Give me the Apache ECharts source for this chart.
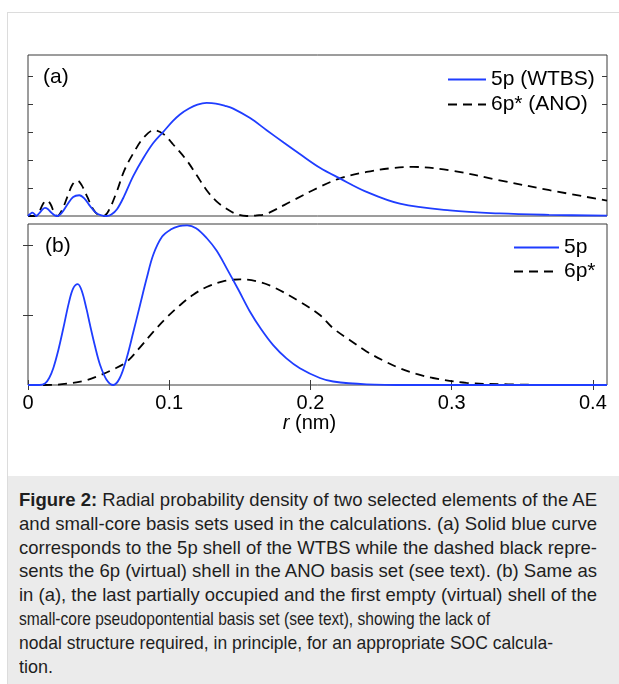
<!DOCTYPE html>
<html><head><meta charset="utf-8">
<script src="https://cdn.jsdelivr.net/npm/echarts@6/dist/echarts.min.js"></script>
<style>
html,body{margin:0;padding:0;background:#fff;width:619px;height:684px;overflow:hidden;font-family:"Liberation Sans",Arial,sans-serif;}
#frameTop{position:absolute;left:7px;top:12px;width:612px;height:1px;background:#dcdcdc;}
#frameLeft{position:absolute;left:7px;top:12px;width:1px;height:672px;background:#dcdcdc;}
#chart{position:absolute;left:0;top:0;width:619px;height:476px;}
#caption{position:absolute;left:8px;top:476px;width:611px;height:208px;background:#ebebeb;}
#capText{position:absolute;left:11px;top:12px;width:700px;font-size:19px;line-height:23.8px;color:#1e1e1e;}
#capText div{height:23.8px;white-space:nowrap;}
#capText span{display:inline-block;white-space:nowrap;transform-origin:0 50%;}
</style></head>
<body>
<div id="frameTop"></div><div id="frameLeft"></div>
<div id="chart"></div>
<div id="caption"><div id="capText"></div></div>
<script>
// ---- caption text (one entry per printed line) ----
const captionBold = 'Figure 2:';
const captionLines = [
  ' Radial probability density of two selected elements of the AE',
  'and small-core basis sets used in the calculations. (a) Solid blue curve',
  'corresponds to the 5p shell of the WTBS while the dashed black repre-',
  'sents the 6p (virtual) shell in the ANO basis set (see text). (b) Same as',
  'in (a), the last partially occupied and the first empty (virtual) shell of the',
  'small-core pseudopontential basis set (see text), showing the lack of',
  'nodal structure required, in principle, for an appropriate SOC calcula-',
  'tion.'
];
const captionLineWidths = [578, 578, 578, 578, 578, 471, 534, 34];

// ---- tick values / labels ----
const rTicks = [0, 0.1, 0.2, 0.3, 0.4];
const rTickLabels = ['0', '0.1', '0.2', '0.3', '0.4'];
const yTicksA = [1, 2, 3, 4, 5];
const yTicksB = [1, 2];
const seriesNamesA = ['5p (WTBS)', '6p* (ANO)'];
const seriesNamesB = ['5p', '6p*'];
const panelLabels = ['(a)', '(b)'];

// ---- panel (a): 5p (WTBS) ----
const rA5p = [0, 0.0015, 0.003, 0.0045, 0.0057, 0.008, 0.010, 0.012, 0.014, 0.0165, 0.0186, 0.0208, 0.024, 0.028, 0.032, 0.0363, 0.040, 0.044, 0.048, 0.052, 0.0557, 0.059, 0.063, 0.068, 0.0745, 0.0815, 0.0887, 0.0958, 0.1025, 0.1076, 0.114, 0.120, 0.1265, 0.133, 0.1395, 0.1453, 0.157, 0.169, 0.181, 0.1925, 0.2067, 0.2208, 0.2397, 0.2633, 0.2987, 0.334, 0.369, 0.41];
const pA5p = [0, 0.07, 0.12, 0.07, 0, 0.1, 0.22, 0.29, 0.25, 0.12, 0.03, 0, 0.12, 0.42, 0.68, 0.74, 0.62, 0.35, 0.12, 0.02, 0, 0.05, 0.24, 0.7, 1.42, 2.05, 2.6, 3.0, 3.38, 3.62, 3.83, 3.97, 4.03, 4.01, 3.93, 3.83, 3.50, 3.06, 2.62, 2.21, 1.72, 1.34, 0.86, 0.44, 0.20, 0.09, 0.04, 0.01];
// ---- panel (a): 6p* (ANO) ----
const rA6p = [0, 0.005, 0.0075, 0.0105, 0.0132, 0.016, 0.0185, 0.0208, 0.024, 0.028, 0.0315, 0.0349, 0.038, 0.042, 0.046, 0.050, 0.0533, 0.057, 0.0628, 0.068, 0.0745, 0.082, 0.0892, 0.096, 0.1028, 0.1123, 0.1195, 0.1265, 0.1335, 0.1406, 0.1475, 0.1548, 0.162, 0.169, 0.1878, 0.2067, 0.2208, 0.2397, 0.2565, 0.2727, 0.2987, 0.334, 0.3694, 0.41];
const pA6p = [0, 0, 0.1, 0.42, 0.56, 0.42, 0.12, 0, 0.2, 0.7, 1.12, 1.27, 1.1, 0.68, 0.25, 0.03, 0, 0.18, 0.86, 1.6, 2.23, 2.8, 3.06, 2.92, 2.55, 1.99, 1.45, 0.92, 0.52, 0.26, 0.07, 0, 0.02, 0.08, 0.56, 1.04, 1.34, 1.57, 1.70, 1.75, 1.63, 1.27, 0.92, 0.55];
// ---- panel (b): 5p ----
const rB5p = [0, 0.008, 0.012, 0.015, 0.0179, 0.0215, 0.025, 0.029, 0.032, 0.0352, 0.038, 0.0415, 0.0439, 0.0475, 0.051, 0.0555, 0.0604, 0.065, 0.0698, 0.0745, 0.0793, 0.084, 0.0887, 0.095, 0.101, 0.107, 0.1127, 0.119, 0.1265, 0.1335, 0.1406, 0.149, 0.1571, 0.165, 0.1736, 0.183, 0.1925, 0.2067, 0.2161, 0.2397, 0.27, 0.41];
const pB5p = [0, 0, 0.02, 0.1, 0.24, 0.5, 0.81, 1.18, 1.38, 1.44, 1.35, 1.08, 0.86, 0.55, 0.29, 0.08, 0, 0.1, 0.38, 0.75, 1.14, 1.52, 1.86, 2.12, 2.22, 2.27, 2.28, 2.24, 2.10, 1.92, 1.67, 1.36, 1.05, 0.80, 0.57, 0.38, 0.24, 0.10, 0.05, 0.01, 0, 0];
// ---- panel (b): 6p* ----
const rB6p = [0, 0.01, 0.02, 0.0274, 0.04, 0.051, 0.06, 0.0698, 0.079, 0.0887, 0.098, 0.1076, 0.117, 0.1265, 0.138, 0.15, 0.162, 0.1736, 0.1925, 0.2067, 0.2161, 0.228, 0.2397, 0.2515, 0.2633, 0.275, 0.2868, 0.3105, 0.34, 0.38, 0.41];
const pB6p = [0, 0, 0.005, 0.02, 0.06, 0.14, 0.22, 0.33, 0.53, 0.76, 0.96, 1.14, 1.29, 1.40, 1.48, 1.51, 1.48, 1.40, 1.19, 1.0, 0.81, 0.64, 0.48, 0.35, 0.24, 0.16, 0.10, 0.03, 0.01, 0, 0];

// ---- caption build ----
(function () {
  const box = document.getElementById('capText');
  captionLines.forEach((t, i) => {
    const d = document.createElement('div');
    const s = document.createElement('span');
    if (i === 0) {
      const b = document.createElement('b');
      b.textContent = captionBold;
      s.appendChild(b);
    }
    s.appendChild(document.createTextNode(t));
    d.appendChild(s);
    box.appendChild(d);
    const w = s.getBoundingClientRect().width;
    if (w > 0) s.style.transform = 'scaleX(' + (captionLineWidths[i] / w) + ')';
  });
})();

const zip = (xs, ys) => xs.map((x, i) => [x, ys[i]]);
const FONT = 'Liberation Sans';
const BLUE = '#1f3dff';
const FRAME = '#3a3a3a';

function xAx(grid, pos, withLabels) {
  return {
    type: 'value', gridIndex: grid, position: pos, min: 0, max: 0.41,
    axisLine: { show: false },
    splitLine: { show: false },
    axisTick: { show: grid === 1, inside: true, length: 5, customValues: rTicks, lineStyle: { color: FRAME, width: 1 } },
    axisLabel: withLabels ? {
      show: true, customValues: rTicks, margin: 8, fontSize: 20, fontFamily: FONT, color: '#000',
      formatter: v => { const i = rTicks.findIndex(t => Math.abs(t - v) < 1e-9); return i >= 0 ? rTickLabels[i] : ''; }
    } : { show: false },
    name: withLabels ? '{i|r} (nm)' : '',
    nameLocation: 'middle', nameGap: 26,
    nameTextStyle: withLabels ? { fontSize: 20, fontFamily: FONT, color: '#000', padding: [0, 16, 0, 0],
      rich: { i: { fontStyle: 'italic', fontSize: 20, fontFamily: FONT, color: '#000' } } } : {}
  };
}
function yAx(grid, pos, max, ticks) {
  return {
    type: 'value', gridIndex: grid, position: pos, min: 0, max: max,
    axisLine: { show: false }, splitLine: { show: false },
    axisTick: { show: true, inside: true, length: 5, customValues: ticks, lineStyle: { color: FRAME, width: 1 } },
    axisLabel: { show: false }
  };
}
function line(name, xi, yi, xs, ys, dashed) {
  return {
    type: 'line', name: name, xAxisIndex: xi, yAxisIndex: yi, data: zip(xs, ys),
    symbol: 'none', showSymbol: false, smooth: 0.35, z: dashed ? 3 : 4,
    lineStyle: dashed ? { color: '#000', width: 1.8, type: [9, 6] } : { color: BLUE, width: 1.8 },
    itemStyle: { color: dashed ? '#000' : BLUE }
  };
}
const legendCommon = {
  orient: 'vertical', padding: 0, itemHeight: 20, selectedMode: false,
  itemStyle: { opacity: 0 },
  textStyle: { fontSize: 21, fontFamily: FONT, color: '#000', lineHeight: 20 }
};

const chart = echarts.init(document.getElementById('chart'), null, { renderer: 'canvas' });
chart.setOption({
  animation: false,
  backgroundColor: 'transparent',
  grid: [
    { left: 28, top: 55, right: 12, height: 161, show: true, borderColor: FRAME, borderWidth: 1, backgroundColor: 'transparent' },
    { left: 28, top: 224, right: 12, height: 161, show: true, borderColor: FRAME, borderWidth: 1, backgroundColor: 'transparent' }
  ],
  xAxis: [xAx(0, 'bottom', false), xAx(1, 'bottom', true), xAx(1, 'top', false)],
  yAxis: [yAx(0, 'left', 5.74, yTicksA), yAx(0, 'right', 5.74, yTicksA), yAx(1, 'left', 2.3, yTicksB), yAx(1, 'right', 2.3, yTicksB)],
  legend: [
    Object.assign({}, legendCommon, { data: seriesNamesA, left: 447, top: 69, itemWidth: 38, itemGap: 4 }),
    Object.assign({}, legendCommon, { data: seriesNamesB, left: 513, top: 237, itemWidth: 45, itemGap: 3 })
  ],
  graphic: [
    { type: 'text', left: 43, top: 67, style: { text: panelLabels[0], font: '21px "Liberation Sans"', fill: '#000' } },
    { type: 'text', left: 45, top: 236, style: { text: panelLabels[1], font: '21px "Liberation Sans"', fill: '#000' } }
  ],
  series: [
    line(seriesNamesA[0], 0, 0, rA5p, pA5p, false),
    line(seriesNamesA[1], 0, 0, rA6p, pA6p, true),
    line(seriesNamesB[0], 1, 2, rB5p, pB5p, false),
    line(seriesNamesB[1], 1, 2, rB6p, pB6p, true)
  ]
});
</script>
</body></html>
